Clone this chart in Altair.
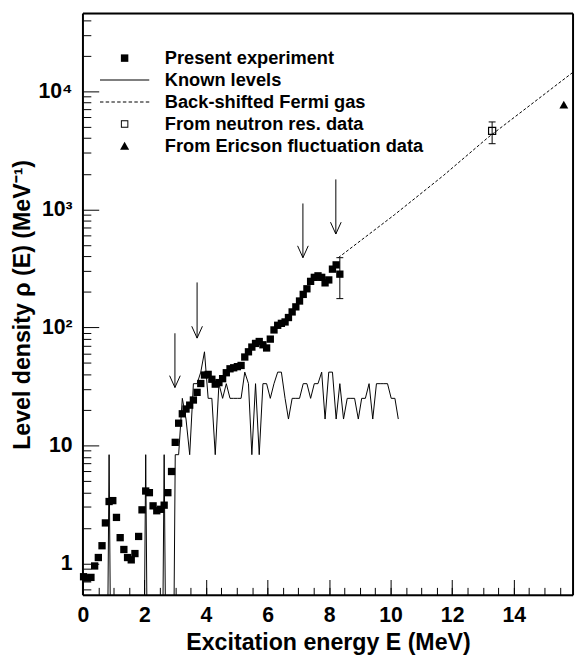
import altair as alt
import pandas as pd
import numpy as np

FONT = "Liberation Sans, Arial, Helvetica, sans-serif"

# ---------------- data ----------------
E_grid = [0.02, 0.14, 0.26, 0.38, 0.50, 0.62, 0.73, 0.85, 0.97, 1.09,
          1.21, 1.33, 1.45, 1.57, 1.69, 1.81, 1.92, 2.04, 2.16, 2.28,
          2.40, 2.52, 2.64, 2.76, 2.88, 3.00, 3.11, 3.23, 3.35, 3.47,
          3.59, 3.71, 3.83, 3.95, 4.07, 4.19, 4.30, 4.42, 4.54, 4.66,
          4.78, 4.90, 5.02, 5.14, 5.26, 5.38, 5.49, 5.61, 5.73, 5.85,
          5.97, 6.09, 6.21, 6.33, 6.45, 6.57, 6.68, 6.80, 6.92, 7.04,
          7.16, 7.28, 7.40, 7.52, 7.64, 7.76, 7.87, 7.99, 8.11, 8.23,
          8.35, 8.47, 8.59, 8.71, 8.83, 8.95, 9.06, 9.18, 9.30, 9.42,
          9.54, 9.66, 9.78, 9.90, 10.02, 10.14, 10.25]

exp_rho = [0.77, 0.75, 0.76, 0.95, 1.12, 1.41, 2.2, 3.34, 3.4, 2.45,
           1.65, 1.31, 1.12, 1.07, 1.21, 1.69, 2.84, 4.1, 3.97, 3.07,
           2.79, 2.87, 3.11, 3.97, 6.0, 10.6, 15.4, 18.5, 20.3, 21.9,
           24.2, 28.1, 33.4, 39.4, 39.9, 36.3, 33.0, 34.0, 36.7, 41.2,
           44.5, 45.4, 46.4, 47.5, 56, 62, 68, 73, 75.8, 71.1,
           66.8, 79.4, 95, 104, 108, 111, 121, 135, 149, 167,
           190, 212, 245, 265, 273, 265, 238, 252, 311, 338,
           282]
exp_err_E = [8.35]
exp_err_lo = [175]
exp_err_hi = [389]

known_levels = [0, 0, 0, 0, 0, 0, 0, 8.33, 0, 0,
                0, 0, 0, 0, 0, 0, 0, 8.33, 0, 0,
                0, 0, 8.33, 0, 0, 8.33, 8.33, 25, 16.7, 8.33,
                33.3, 33.3, 41.7, 62, 25, 25, 8.33, 33.3, 25, 33.3,
                25, 25, 25, 25, 41.7, 33.3, 8.33, 33.3, 8.33, 33.3,
                33.3, 25, 33.3, 41.7, 41.7, 25, 16.7, 25, 25, 25,
                33.3, 33.3, 25, 33.3, 33.3, 41.7, 16.7, 41.7, 41.7, 16.7,
                33.3, 16.7, 25, 25, 25, 16.7, 25, 25, 33.3, 16.7,
                33.3, 33.3, 33.3, 33.3, 25, 25, 16.7]

bsfg_E = [8.30, 10.12, 11.72, 13.16, 15.93]
bsfg_rho = [389, 896, 1935, 4045, 14500]

neutron_E = [13.30]
neutron_rho = [4620]
neutron_lo = [3595]
neutron_hi = [5495]

ericson_E = [15.63]
ericson_rho = [7670]

arrow_E = [2.99, 3.71, 7.15, 8.22]
arrow_tip = [30.9, 81, 389, 617]
arrow_top = [89, 240, 1120, 1791]

x_ticks = [0, 2, 4, 6, 8, 10, 12, 14]
x_minor = [0.5 * i for i in range(1, 32)]
y_ticks = [1, 10, 100, 1000, 10000]
y_tick_labels = ["1", "10", "10\u00b2", "10\u00b3", "10\u2074"]
y_minor = ([0.6, 0.7, 0.8, 0.9] + [2, 3, 4, 5, 6, 7, 8, 9]
           + [20, 30, 40, 50, 60, 70, 80, 90]
           + [200, 300, 400, 500, 600, 700, 800, 900]
           + [2000, 3000, 4000, 5000, 6000, 7000, 8000, 9000]
           + [20000, 30000, 40000])

legend_labels = ["Present experiment", "Known levels", "Back-shifted Fermi gas",
                 "From neutron res. data", "From Ericson fluctuation data"]

# ---------------- tables ----------------
exp_df = pd.DataFrame({"E": E_grid[:len(exp_rho)], "rho": exp_rho})
kl_df = pd.DataFrame({"E": E_grid[:len(known_levels)],
                      "rho": [v if v > 0 else 1e-3 for v in known_levels]})
bsfg_df = pd.DataFrame({"E": bsfg_E, "rho": bsfg_rho})
err_df = pd.DataFrame({"E": exp_err_E + neutron_E,
                       "lo": exp_err_lo + neutron_lo,
                       "hi": exp_err_hi + neutron_hi})
caps_df = pd.DataFrame({"E": (exp_err_E + neutron_E) * 2,
                        "v": exp_err_lo + neutron_lo + exp_err_hi + neutron_hi})
neutron_df = pd.DataFrame({"E": neutron_E, "rho": neutron_rho})
ericson_df = pd.DataFrame({"E": ericson_E, "rho": ericson_rho})
arrow_df = pd.DataFrame({"E": arrow_E, "tip": arrow_tip, "top": arrow_top})
legend_df = pd.DataFrame({"series": legend_labels})

# ---------------- scales & axes (ticks pointing inward) ----------------
xs = alt.Scale(domain=[0, 15.93], nice=False, zero=False)
ys = alt.Scale(type="log", domain=[0.536, 45600], nice=False)

label_expr = ""
for v, t in zip(y_ticks, y_tick_labels):
    label_expr += f"datum.value == {v} ? '{t}' : "
label_expr += "''"

common = dict(domain=False, grid=False, tickColor="black", tickWidth=1)

x_major = alt.Axis(orient="bottom", values=x_ticks, tickSize=16, offset=-16,
                   labelFont=FONT, labelFontSize=21.5, labelFontWeight="bold",
                   labelColor="black", labelPadding=10, labelFlush=False,
                   labelOverlap=False, format="d",
                   title="Excitation energy E (MeV)", titleFont=FONT,
                   titleFontSize=23.5, titleFontWeight="bold", titleColor="black",
                   titlePadding=4, **common)
x_min = alt.Axis(orient="bottom", values=x_minor, tickSize=8, offset=-8,
                 labels=False, title=None, **common)
y_major = alt.Axis(orient="left", values=y_ticks, tickSize=16, offset=-16,
                   labelExpr=label_expr, labelFont=FONT, labelFontSize=21.5,
                   labelFontWeight="bold", labelColor="black", labelPadding=11,
                   labelFlush=False, labelOverlap=False,
                   title="Level density \u03c1 (E) (MeV\u207b\u00b9)", titleFont=FONT,
                   titleFontSize=23.5, titleFontWeight="bold", titleColor="black",
                   titlePadding=4, **common)
y_min = alt.Axis(orient="left", values=y_minor, tickSize=8, offset=-8,
                 labels=False, title=None, **common)


def frame_axis(orient):
    # plain frame line (domain only)
    return alt.Axis(orient=orient, domain=True, domainColor="black",
                    domainWidth=2, translate=0, ticks=False, labels=False,
                    grid=False, title=None)


# ---------------- symbol paths ----------------
EXT = "M-3.57,0M3.57,0"


def rect(x0, x1, h):
    return f"M{x0:.3f},{-h:.3f}H{x1:.3f}V{h:.3f}H{x0:.3f}Z"


sq_path = EXT + rect(-0.54, 0.54, 0.54)
line_path = EXT + rect(-3.57, 3.57, 0.072)
dash_path = EXT + "".join(rect(x, min(x + 0.5, 3.57), 0.072)
                          for x in np.arange(-3.57, 3.57, 0.83))
open_sq_path = EXT + "M-0.54,-0.54H0.54V0.54H-0.54ZM-0.40,-0.40V0.40H0.40V-0.40Z"
tri_path = EXT + "M0,-0.6L0.66,0.55L-0.66,0.55Z"

ARROW_HEAD = "M-0.45,-1L0,0L0.45,-1"
TRIANGLE = "M0,-1L1.1,0.9L-1.1,0.9Z"
CAP = "M-1,0H1"


def X(ax=None):
    return alt.X("E:Q", scale=xs, axis=ax)


# ---------------- layers ----------------
kl = alt.Chart(kl_df).mark_line(color="black", strokeWidth=1, clip=True).encode(
    x=X(x_min), y=alt.Y("rho:Q", scale=ys, axis=y_min))

bsfg = alt.Chart(bsfg_df).mark_line(color="black", strokeWidth=1,
                                     strokeDash=[3, 2], clip=True).encode(
    x=X(frame_axis("top")), y=alt.Y("rho:Q", scale=ys, axis=frame_axis("right")))

arrows = alt.Chart(arrow_df).mark_rule(color="black", strokeWidth=1).encode(
    x=X(frame_axis("bottom")),
    y=alt.Y("top:Q", scale=ys, axis=frame_axis("left")), y2="tip:Q")

heads = alt.Chart(arrow_df).mark_point(shape=ARROW_HEAD, size=576, filled=False,
                                       color="black", strokeWidth=1, opacity=1).encode(
    x=X(), y=alt.Y("tip:Q", scale=ys, axis=None))

err = alt.Chart(err_df).mark_rule(color="black", strokeWidth=1).encode(
    x=X(), y=alt.Y("lo:Q", scale=ys, axis=None), y2="hi:Q")

caps = alt.Chart(caps_df).mark_point(shape=CAP, size=49, filled=False,
                                     color="black", strokeWidth=1, opacity=1).encode(
    x=X(), y=alt.Y("v:Q", scale=ys, axis=None))

exp_pts = alt.Chart(exp_df).mark_point(shape="square", size=55, filled=True,
                                       color="black", opacity=1).encode(
    x=X(x_major), y=alt.Y("rho:Q", scale=ys, axis=y_major))

neutron = alt.Chart(neutron_df).mark_point(shape="square", size=52, filled=False,
                                           color="black", strokeWidth=1.2,
                                           opacity=1).encode(
    x=X(), y=alt.Y("rho:Q", scale=ys, axis=None))

ericson = alt.Chart(ericson_df).mark_point(shape=TRIANGLE, size=67, filled=True,
                                           color="black", opacity=1).encode(
    x=X(), y=alt.Y("rho:Q", scale=ys, axis=None))

legend_layer = alt.Chart(legend_df).mark_point(filled=True, color="black",
                                               opacity=0).encode(
    shape=alt.Shape("series:N",
                    scale=alt.Scale(domain=legend_labels,
                                    range=[sq_path, line_path, dash_path,
                                           open_sq_path, tri_path]),
                    legend=alt.Legend(title=None, orient="none",
                                      legendX=33, legendY=36,
                                      symbolSize=196, symbolFillColor="black",
                                      symbolStrokeColor="transparent",
                                      symbolStrokeWidth=0, symbolOpacity=1,
                                      labelFont=FONT, labelFontSize=18.5,
                                      labelFontWeight="bold", labelColor="black",
                                      labelOffset=31.5, labelLimit=400,
                                      rowPadding=3.25, padding=0)))

chart = alt.layer(kl, bsfg, arrows, heads, err, caps, exp_pts, neutron, ericson,
                  legend_layer).resolve_axis(
    x="independent", y="independent"
).properties(
    width=497, height=590,
    padding={"left": 76, "top": 1, "right": 3, "bottom": 58},
    autosize="none",
).configure_view(stroke="black", strokeWidth=2).configure(font=FONT,
                                                           background="white")

chart.save("out.html", embed_options={"renderer": "svg", "actions": False})
